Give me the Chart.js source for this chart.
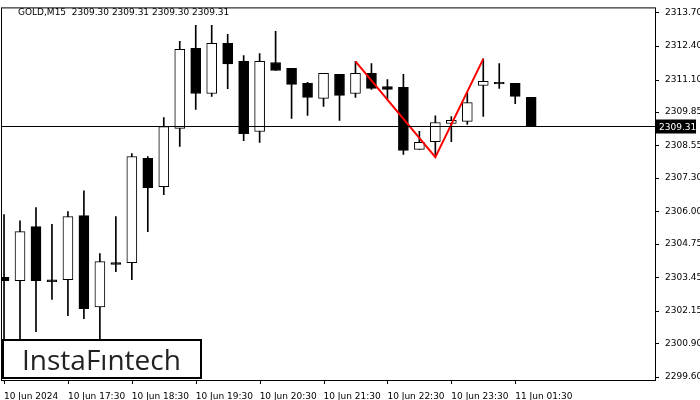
<!DOCTYPE html>
<html>
<head>
<meta charset="utf-8">
<script src="https://cdn.jsdelivr.net/npm/chart.js@4.4.1/dist/chart.umd.min.js"></script>
<style>
  html, body { margin: 0; padding: 0; background: #fff; }
  #wrap { width: 700px; height: 400px; }
</style>
</head>
<body>
<div id="wrap"><canvas id="c"></canvas></div>
<script>
const opens  = [2303.45, 2303.32, 2305.41, 2303.35, 2303.36, 2305.84, 2302.31, 2304.02, 2304.02, 2308.05,
                2306.96, 2309.21, 2312.31, 2310.56, 2312.50, 2311.80, 2309.09, 2311.76, 2311.53, 2310.95,
                2310.37, 2311.30, 2310.56, 2311.34, 2310.83, 2310.80, 2308.40, 2308.70, 2309.40, 2309.48,
                2310.87, 2310.99, 2310.95, 2310.41]
const highs  = [2305.88, 2305.64, 2306.15, 2305.50, 2305.99, 2306.80, 2304.37, 2305.80, 2308.24, 2308.12,
                2309.63, 2312.58, 2313.20, 2313.20, 2312.85, 2312.03, 2312.10, 2312.96, 2311.53, 2310.99,
                2311.34, 2311.30, 2311.80, 2311.72, 2311.10, 2311.30, 2309.10, 2309.70, 2309.67, 2310.60,
                2311.90, 2311.72, 2310.95, 2310.41]
const lows   = [2300.20, 2300.90, 2301.35, 2302.60, 2301.97, 2301.85, 2301.00, 2303.67, 2303.36, 2305.22,
                2306.65, 2308.51, 2309.94, 2310.45, 2310.75, 2308.74, 2308.67, 2311.45, 2309.60, 2309.71,
                2310.06, 2309.52, 2310.41, 2310.72, 2310.33, 2308.20, 2308.40, 2308.10, 2308.70, 2309.36,
                2309.67, 2310.76, 2310.17, 2309.31]
const closes = [2303.32, 2305.22, 2303.32, 2303.28, 2305.80, 2302.24, 2304.06, 2303.95, 2308.12, 2306.92,
                2309.28, 2312.27, 2310.56, 2312.50, 2311.70, 2309.01, 2311.80, 2311.45, 2310.91, 2310.41,
                2311.34, 2310.49, 2311.34, 2310.76, 2310.72, 2308.36, 2308.67, 2309.44, 2309.52, 2310.21,
                2311.03, 2310.95, 2310.45, 2309.31]
const timeLabels = ['10 Jun 2024', '10 Jun 17:30', '10 Jun 18:30', '10 Jun 19:30', '10 Jun 20:30',
                    '10 Jun 21:30', '10 Jun 22:30', '10 Jun 23:30', '11 Jun 01:30']
const priceTicks = [2299.60, 2300.90, 2302.15, 2303.45, 2304.75, 2306.00, 2307.30, 2308.55, 2309.85,
                    2311.10, 2312.40, 2313.70]
const patternIdx = [22, 27, 30]
const patternVals = [2311.80, 2308.10, 2311.90]
const lastPrice = 2309.31

const wicks = opens.map((o, i) => ({ x: i, y: [lows[i], highs[i]] }))
const bodies = opens.map((o, i) => {
  let a = o, b = closes[i]
  if (Math.abs(a - b) < 0.06) b = a - 0.06
  return { x: i, y: [a, b] }
})
const bodyFill = opens.map((o, i) => closes[i] >= o ? '#ffffff' : '#000000')

const overlay = {
  id: 'overlay',
  afterDraw(chart) {
    const { ctx, chartArea: a, scales } = chart
    ctx.save()
    const py = Math.round(scales.y.getPixelForValue(lastPrice)) + 0.5
    ctx.strokeStyle = '#000'
    ctx.lineWidth = 1
    ctx.beginPath(); ctx.moveTo(a.left, py); ctx.lineTo(a.right, py); ctx.stroke()
    ctx.strokeRect(a.left + 0.5, a.top + 0.5, a.right - a.left, a.bottom - a.top)
    priceTicks.forEach(v => {
      const ty = Math.round(scales.y.getPixelForValue(v)) + 0.5
      ctx.beginPath(); ctx.moveTo(a.right, ty); ctx.lineTo(a.right + 4, ty); ctx.stroke()
    })
    timeLabels.forEach((t, i) => {
      const tx = Math.round(scales.x.getPixelForValue(i * 4)) + 0.5
      ctx.beginPath(); ctx.moveTo(tx, a.bottom); ctx.lineTo(tx, a.bottom + 4); ctx.stroke()
    })
    ctx.fillStyle = '#000'
    ctx.fillRect(a.right + 1, py - 7, 40, 14)
    ctx.fillStyle = '#fff'
    ctx.font = '9px "DejaVu Sans"'
    ctx.textBaseline = 'middle'
    ctx.fillText(lastPrice.toFixed(2), a.right + 4, py + 1)
    ctx.fillStyle = '#000'
    ctx.textBaseline = 'alphabetic'
    ctx.fillText('GOLD,M15  2309.30 2309.31 2309.30 2309.31', 18, 15)
    ctx.fillStyle = '#fff'
    ctx.fillRect(3, 340, 198, 38)
    ctx.lineWidth = 2
    ctx.strokeRect(3, 340, 198, 38)
    ctx.fillStyle = '#222'
    ctx.font = '28px "Open Sans"'
    ctx.fillText('InstaFıntech', 22, 370)
    ctx.restore()
  }
}

new Chart(document.getElementById('c'), {
  data: {
    datasets: [
      {
        type: 'line', data: patternIdx.map((x, i) => ({ x, y: patternVals[i] })),
        borderColor: '#ff0000', borderWidth: 2, pointRadius: 0, order: 0
      },
      {
        type: 'bar', data: bodies, backgroundColor: bodyFill, borderColor: '#000',
        borderWidth: 1, borderSkipped: false, barThickness: 10, grouped: false, order: 1
      },
      {
        type: 'bar', data: wicks, backgroundColor: '#000', barThickness: 1, grouped: false, order: 2
      }
    ]
  },
  options: {
    responsive: true, maintainAspectRatio: false, animation: false,
    layout: { padding: { top: 0, left: 1, right: 0, bottom: 0 } },
    plugins: { legend: { display: false }, tooltip: { enabled: false } },
    scales: {
      x: {
        type: 'linear', min: -0.19, max: 40.75, offset: false,
        grid: { display: false },
        border: { display: false },
        afterBuildTicks: (s) => { s.ticks = timeLabels.map((t, i) => ({ value: i * 4 })) },
        afterFit: (s) => { s.height = 20 },
        ticks: {
          align: 'start', maxRotation: 0, autoSkip: false, padding: 3,
          color: '#000', font: { size: 9, family: 'DejaVu Sans' },
          callback: (v) => timeLabels[v / 4]
        }
      },
      y: {
        position: 'right', min: 2299.48, max: 2313.89,
        grid: { display: false },
        border: { display: false },
        afterBuildTicks: (s) => { s.ticks = priceTicks.map(v => ({ value: v })) },
        afterFit: (s) => { s.width = 45 },
        ticks: {
          color: '#000', font: { size: 9, family: 'DejaVu Sans' }, padding: 2,
          callback: (v) => v.toFixed(2)
        }
      }
    }
  },
  plugins: [overlay]
})
</script>
</body>
</html>
